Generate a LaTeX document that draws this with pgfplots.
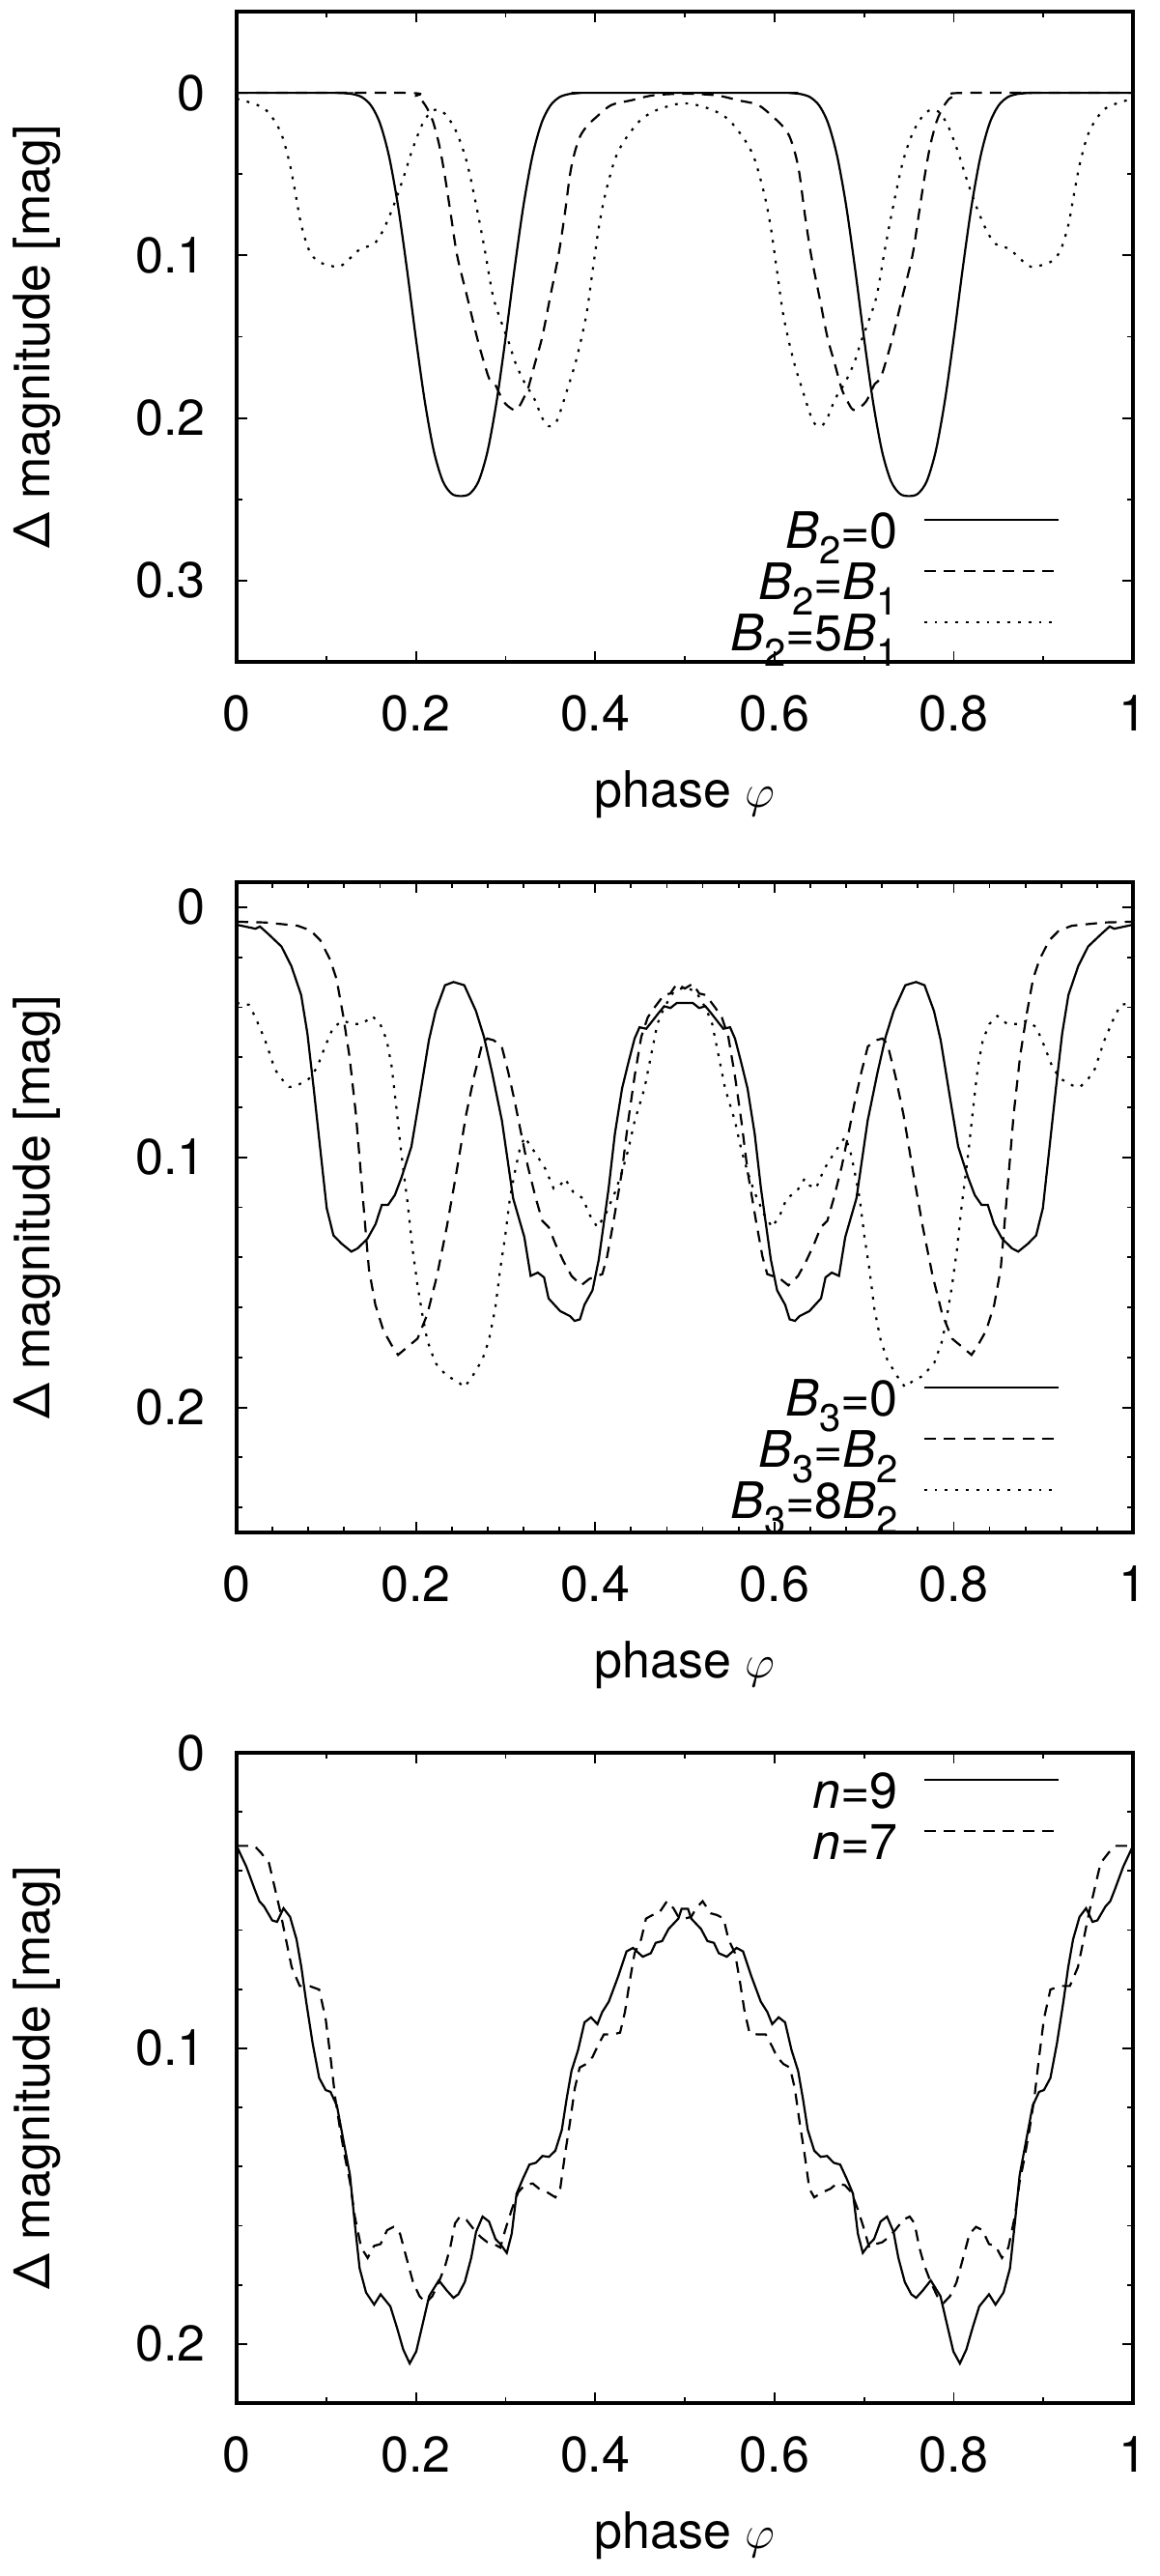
\documentclass[border=0pt]{standalone}
\usepackage{fontspec}
\setmainfont{TeX Gyre Heros}
\usepackage{pgfplots}
\pgfplotsset{compat=1.18}
\newcommand{\sub}[1]{\raisebox{-4pt}{\fontsize{10}{11}\selectfont #1}}
\pgfplotsset{
 panel/.style={
  scale only axis, width=232pt, height=168.25pt,
  xmin=0, xmax=1, y dir=reverse,
  xtick={0,0.2,0.4,0.6,0.8,1}, minor xtick={0.1,0.3,0.5,0.7,0.9},
  tick align=inside,
  major tick length=2.8pt, minor tick length=1.5pt,
  every tick/.style={black, line width=0.45pt},
  axis line style={line width=1.1pt},
  /pgf/number format/assume math mode=true,
  tick label style={font=\fontsize{13}{15}\selectfont, inner sep=0pt},
  xticklabel style={anchor=base, yshift=-17.8pt},
  yticklabel style={anchor=east, xshift=-7.9pt},
  every axis x label/.style={at={(axis description cs:0.5,-0.2229)}, anchor=base},
  every axis y label/.style={at={(axis description cs:-0.20905,0.5)}, rotate=90, anchor=base},
  label style={font=\fontsize{13}{15}\selectfont, inner sep=0pt},
  xlabel={phase $\varphi$},
  ylabel={Δ magnitude [mag]},
  legend plot pos=right,
  legend cell align=right,
  legend image code/.code={\draw[##1] (0pt,4.6pt) -- (34.75pt,4.6pt);},
  legend style={draw=none, fill=none, inner sep=0pt, outer sep=0pt, column sep=6.5pt, row sep=0pt, font=\fontsize{13}{15}\selectfont, nodes={inner sep=0pt, text height=9.4pt, text depth=3.85pt}, anchor=north east},
  every axis plot/.append style={line width=0.55pt, black, mark=none},
 },
 dashedg/.style={dash pattern=on 3pt off 2.1pt},
 dottedg/.style={dash pattern=on 0.7pt off 2pt},
}
\begin{document}
\begin{tikzpicture}
\useasboundingbox (0,0) rectangle (300pt,-666.5pt);
% ---------------- Panel 1
\begin{axis}[panel, at={(61.25pt,-3pt)}, anchor=north west,
  ymin=-0.05, ymax=0.35, ytick={0,0.1,0.2,0.3}, minor ytick={0.05,0.15,0.25},
  legend style={at={(axis description cs:0.918,0.231)}}]
\addplot[smooth, solid] coordinates {(0,0) (0.11,0) (0.12,0.0002) (0.13,0.0008) (0.14,0.0027) (0.15,0.0078) (0.16,0.0188) (0.17,0.0389) (0.18,0.0693) (0.19,0.1083) (0.20,0.151) (0.21,0.190) (0.22,0.2203) (0.23,0.2388) (0.24,0.2466) (0.25,0.248) (0.26,0.2466) (0.27,0.2388) (0.28,0.2203) (0.29,0.190) (0.30,0.151) (0.31,0.1083) (0.32,0.0693) (0.33,0.0389) (0.34,0.0188) (0.35,0.0078) (0.36,0.0027) (0.37,0.0008) (0.38,0.0002) (0.39,0) (0.61,0) (0.62,0.0002) (0.63,0.0008) (0.64,0.0027) (0.65,0.0078) (0.66,0.0188) (0.67,0.0389) (0.68,0.0693) (0.69,0.1083) (0.70,0.151) (0.71,0.190) (0.72,0.2203) (0.73,0.2388) (0.74,0.2466) (0.75,0.248) (0.76,0.2466) (0.77,0.2388) (0.78,0.2203) (0.79,0.190) (0.80,0.151) (0.81,0.1083) (0.82,0.0693) (0.83,0.0389) (0.84,0.0188) (0.85,0.0078) (0.86,0.0027) (0.87,0.0008) (0.88,0.0002) (0.89,0) (1,0)};
\addlegendentry{\textit{B}\sub{2}=0}
\addplot[smooth, dashedg] coordinates {(0,0) (0.19,0) (0.20,0.002) (0.205,0.0036) (0.212,0.009) (0.219,0.0175) (0.226,0.032) (0.232,0.05) (0.239,0.075) (0.246,0.1) (0.257,0.125) (0.268,0.150) (0.275,0.164) (0.282,0.176) (0.288,0.179) (0.298,0.190) (0.309,0.195) (0.314,0.194) (0.320,0.188) (0.325,0.182) (0.333,0.166) (0.341,0.150) (0.350,0.125) (0.359,0.100) (0.366,0.075) (0.372,0.050) (0.377,0.037) (0.383,0.027) (0.39,0.021) (0.40,0.0155) (0.418,0.0075) (0.44,0.0046) (0.465,0.0015) (0.50,0.0005) (0.535,0.0015) (0.56,0.0046) (0.582,0.0075) (0.60,0.0155) (0.61,0.021) (0.617,0.027) (0.623,0.037) (0.628,0.050) (0.634,0.075) (0.641,0.100) (0.650,0.125) (0.659,0.150) (0.667,0.166) (0.675,0.182) (0.680,0.188) (0.686,0.194) (0.691,0.195) (0.702,0.190) (0.712,0.179) (0.718,0.176) (0.725,0.164) (0.732,0.150) (0.743,0.125) (0.754,0.1) (0.761,0.075) (0.768,0.05) (0.774,0.032) (0.781,0.0175) (0.788,0.009) (0.795,0.0036) (0.80,0.002) (0.81,0) (1,0)};
\addlegendentry{\textit{B}\sub{2}=\textit{B}\sub{1}}
\addplot[smooth, dottedg] coordinates {(0,0.0036) (0.0305,0.0095) (0.0485,0.0234) (0.059,0.043) (0.066,0.063) (0.072,0.081) (0.081,0.097) (0.092,0.104) (0.113,0.107) (0.124,0.103) (0.138,0.096) (0.153,0.093) (0.163,0.085) (0.174,0.071) (0.185,0.054) (0.196,0.035) (0.207,0.0195) (0.217,0.0115) (0.226,0.0105) (0.235,0.0145) (0.246,0.025) (0.257,0.043) (0.268,0.071) (0.277,0.097) (0.286,0.125) (0.296,0.142) (0.304,0.154) (0.311,0.166) (0.321,0.178) (0.332,0.188) (0.341,0.2) (0.348,0.205) (0.357,0.202) (0.368,0.184) (0.379,0.164) (0.39,0.137) (0.397,0.11) (0.404,0.083) (0.411,0.063) (0.422,0.041) (0.433,0.029) (0.451,0.0165) (0.469,0.0105) (0.49,0.007) (0.5,0.0065) (0.51,0.007) (0.531,0.0105) (0.549,0.0165) (0.567,0.029) (0.578,0.041) (0.589,0.063) (0.596,0.083) (0.603,0.11) (0.61,0.137) (0.621,0.164) (0.632,0.184) (0.643,0.202) (0.652,0.205) (0.659,0.2) (0.668,0.188) (0.679,0.178) (0.689,0.166) (0.696,0.154) (0.704,0.142) (0.714,0.125) (0.723,0.097) (0.732,0.071) (0.743,0.043) (0.754,0.025) (0.765,0.0145) (0.774,0.0105) (0.783,0.0115) (0.793,0.0195) (0.804,0.035) (0.815,0.054) (0.826,0.071) (0.837,0.085) (0.847,0.093) (0.862,0.096) (0.876,0.103) (0.887,0.107) (0.908,0.104) (0.919,0.097) (0.928,0.081) (0.934,0.063) (0.941,0.043) (0.9515,0.0234) (0.9695,0.0095) (1,0.0036)};
\addlegendentry{\textit{B}\sub{2}=5\textit{B}\sub{1}}
\end{axis}
% ---------------- Panel 2
\begin{axis}[panel, at={(61.25pt,-228.25pt)}, anchor=north west,
  ymin=-0.01, ymax=0.25, ytick={0,0.1,0.2}, minor ytick={0.02,0.04,0.06,0.08,0.12,0.14,0.16,0.18,0.22,0.24},
  minor xtick={0.04,0.08,0.12,0.16,0.24,0.28,0.32,0.36,0.44,0.48,0.52,0.56,0.64,0.68,0.72,0.76,0.84,0.88,0.92,0.96},
  legend style={at={(axis description cs:0.918,0.235)}}]
\addplot[solid] coordinates {(0,0.007) (0.021,0.0086) (0.026,0.0077) (0.035,0.0106) (0.050,0.0157) (0.061,0.0235) (0.072,0.0351) (0.079,0.0506) (0.086,0.0725) (0.093,0.0957) (0.1005,0.1203) (0.108,0.1312) (0.117,0.1345) (0.128,0.1377) (0.135,0.1364) (0.146,0.1325) (0.155,0.1267) (0.162,0.119) (0.169,0.119) (0.1765,0.1151) (0.184,0.108) (0.195,0.0957) (0.204,0.0764) (0.2145,0.0532) (0.222,0.0415) (0.2325,0.0312) (0.242,0.0299) (0.254,0.0312) (0.267,0.0415) (0.276,0.0519) (0.285,0.0661) (0.296,0.0854) (0.3085,0.1164) (0.321,0.1319) (0.328,0.1474) (0.336,0.1461) (0.343,0.148) (0.348,0.1564) (0.361,0.1615) (0.372,0.1635) (0.377,0.1654) (0.383,0.1648) (0.388,0.159) (0.397,0.1532) (0.404,0.1409) (0.415,0.1125) (0.422,0.0906) (0.43,0.0725) (0.437,0.0622) (0.444,0.0525) (0.4495,0.048) (0.457,0.0486) (0.464,0.0454) (0.471,0.0422) (0.477,0.0396) (0.484,0.0403) (0.491,0.0383) (0.5,0.0383) (0.509,0.0383) (0.516,0.0403) (0.523,0.0396) (0.529,0.0422) (0.536,0.0454) (0.543,0.0486) (0.5505,0.048) (0.556,0.0525) (0.563,0.0622) (0.57,0.0725) (0.578,0.0906) (0.585,0.1125) (0.596,0.1409) (0.603,0.1532) (0.612,0.159) (0.617,0.1648) (0.623,0.1654) (0.628,0.1635) (0.639,0.1615) (0.652,0.1564) (0.657,0.148) (0.664,0.1461) (0.672,0.1474) (0.679,0.1319) (0.6915,0.1164) (0.704,0.0854) (0.715,0.0661) (0.724,0.0519) (0.733,0.0415) (0.746,0.0312) (0.758,0.0299) (0.7675,0.0312) (0.778,0.0415) (0.7855,0.0532) (0.796,0.0764) (0.805,0.0957) (0.816,0.108) (0.8235,0.1151) (0.831,0.119) (0.838,0.119) (0.845,0.1267) (0.854,0.1325) (0.865,0.1364) (0.872,0.1377) (0.883,0.1345) (0.892,0.1312) (0.8995,0.1203) (0.907,0.0957) (0.914,0.0725) (0.921,0.0506) (0.928,0.0351) (0.939,0.0235) (0.95,0.0157) (0.965,0.0106) (0.974,0.0077) (0.979,0.0086) (1,0.007)};
\addlegendentry{\textit{B}\sub{3}=0}
\addplot[dashedg] coordinates {(0,0.0058) (0.032,0.0061) (0.068,0.0074) (0.0825,0.0093) (0.0933,0.0132) (0.1042,0.0209) (0.1114,0.0286) (0.1186,0.0428) (0.1259,0.0596) (0.1331,0.0828) (0.1385,0.1061) (0.1439,0.1293) (0.1476,0.1448) (0.1548,0.159) (0.1638,0.1693) (0.1729,0.1751) (0.1801,0.179) (0.191,0.1757) (0.2018,0.1725) (0.2127,0.1628) (0.2235,0.1474) (0.2344,0.128) (0.2452,0.1061) (0.2561,0.0828) (0.2651,0.0674) (0.2741,0.0545) (0.2796,0.0525) (0.2868,0.0532) (0.2958,0.0557) (0.3031,0.0661) (0.3103,0.0777) (0.3175,0.0906) (0.3248,0.1035) (0.3338,0.1164) (0.341,0.1254) (0.3483,0.128) (0.3555,0.1345) (0.3646,0.1415) (0.3736,0.1474) (0.3844,0.1512) (0.3935,0.1486) (0.408,0.1467) (0.4134,0.1396) (0.4206,0.1254) (0.4297,0.1061) (0.4369,0.0854) (0.4441,0.0674) (0.4514,0.0519) (0.4586,0.0441) (0.4658,0.0403) (0.4767,0.0351) (0.4839,0.0345) (0.4911,0.0306) (0.5,0.0325) (0.5089,0.0306) (0.5161,0.0345) (0.5233,0.0351) (0.5342,0.0403) (0.5414,0.0441) (0.5486,0.0519) (0.5559,0.0674) (0.5631,0.0854) (0.5703,0.1061) (0.5794,0.1254) (0.5866,0.1396) (0.592,0.1467) (0.6065,0.1486) (0.6156,0.1512) (0.6264,0.1474) (0.6354,0.1415) (0.6445,0.1345) (0.6517,0.128) (0.659,0.1254) (0.6662,0.1164) (0.6752,0.1035) (0.6825,0.0906) (0.6897,0.0777) (0.6969,0.0661) (0.7042,0.0557) (0.7132,0.0532) (0.7204,0.0525) (0.7259,0.0545) (0.7349,0.0674) (0.7439,0.0828) (0.7548,0.1061) (0.7656,0.128) (0.7765,0.1474) (0.7873,0.1628) (0.7982,0.1725) (0.809,0.1757) (0.8199,0.179) (0.8271,0.1751) (0.8362,0.1693) (0.8452,0.159) (0.8524,0.1448) (0.8561,0.1293) (0.8615,0.1061) (0.8669,0.0828) (0.8741,0.0596) (0.8814,0.0428) (0.8886,0.0286) (0.8958,0.0209) (0.9067,0.0132) (0.9175,0.0093) (0.932,0.0074) (0.968,0.0061) (1,0.0058)};
\addlegendentry{\textit{B}\sub{3}=\textit{B}\sub{2}}
\addplot[dottedg] coordinates {(0,0.0383) (0.0137,0.039) (0.021,0.0441) (0.0318,0.0532) (0.0427,0.0648) (0.0499,0.0686) (0.059,0.0719) (0.068,0.0712) (0.0807,0.0686) (0.0897,0.0641) (0.0987,0.0557) (0.1078,0.048) (0.1186,0.0454) (0.1295,0.0467) (0.1403,0.0467) (0.1512,0.0435) (0.1602,0.0467) (0.1675,0.0532) (0.1729,0.0635) (0.1783,0.0803) (0.1837,0.0983) (0.1873,0.1086) (0.191,0.119) (0.1964,0.137) (0.2018,0.1512) (0.2072,0.1628) (0.2127,0.1732) (0.2217,0.1822) (0.2344,0.1874) (0.2452,0.1893) (0.2542,0.1919) (0.2633,0.1874) (0.2741,0.1809) (0.2814,0.1732) (0.2886,0.1603) (0.294,0.1448) (0.2995,0.1319) (0.3049,0.1164) (0.3103,0.1061) (0.3157,0.097) (0.3212,0.0919) (0.3284,0.0957) (0.3356,0.0996) (0.3447,0.1048) (0.3537,0.1125) (0.3609,0.1112) (0.3664,0.1086) (0.3754,0.1138) (0.3863,0.1164) (0.3935,0.1228) (0.4025,0.128) (0.4116,0.1228) (0.4224,0.1138) (0.4297,0.1061) (0.4369,0.097) (0.4441,0.0854) (0.455,0.0725) (0.4622,0.0596) (0.4694,0.0467) (0.4767,0.0403) (0.4875,0.0338) (0.5,0.0319) (0.5125,0.0338) (0.5233,0.0403) (0.5306,0.0467) (0.5378,0.0596) (0.545,0.0725) (0.5559,0.0854) (0.5631,0.097) (0.5703,0.1061) (0.5776,0.1138) (0.5884,0.1228) (0.5975,0.128) (0.6065,0.1228) (0.6137,0.1164) (0.6246,0.1138) (0.6336,0.1086) (0.6391,0.1112) (0.6463,0.1125) (0.6553,0.1048) (0.6644,0.0996) (0.6716,0.0957) (0.6788,0.0919) (0.6843,0.097) (0.6897,0.1061) (0.6951,0.1164) (0.7005,0.1319) (0.706,0.1448) (0.7114,0.1603) (0.7186,0.1732) (0.7259,0.1809) (0.7367,0.1874) (0.7458,0.1919) (0.7548,0.1893) (0.7656,0.1874) (0.7783,0.1822) (0.7873,0.1732) (0.7928,0.1628) (0.7982,0.1512) (0.8036,0.137) (0.809,0.119) (0.8127,0.1086) (0.8163,0.0983) (0.8217,0.0803) (0.8271,0.0635) (0.8325,0.0532) (0.8398,0.0467) (0.8488,0.0435) (0.8597,0.0467) (0.8705,0.0467) (0.8814,0.0454) (0.8922,0.048) (0.9013,0.0557) (0.9103,0.0641) (0.9193,0.0686) (0.932,0.0712) (0.941,0.0719) (0.9501,0.0686) (0.9573,0.0648) (0.9682,0.0532) (0.979,0.0441) (0.9863,0.039) (1,0.0383)};
\addlegendentry{\textit{B}\sub{3}=8\textit{B}\sub{2}}
\end{axis}
% ---------------- Panel 3
\begin{axis}[panel, at={(61.25pt,-453.5pt)}, anchor=north west,
  ymin=0, ymax=0.22, ytick={0,0.1,0.2}, minor ytick={0.02,0.04,0.06,0.08,0.12,0.14,0.16,0.18},
  legend style={at={(axis description cs:0.918,0.970)}}]
\addplot[solid] coordinates {(0,0.0315) (0.0108,0.0385) (0.0199,0.046) (0.0253,0.0502) (0.0307,0.052) (0.0397,0.0567) (0.0451,0.0572) (0.0523,0.0526) (0.0596,0.0555) (0.0668,0.0631) (0.0722,0.0725) (0.0776,0.0842) (0.0848,0.0983) (0.0921,0.11) (0.0993,0.1141) (0.1047,0.1147) (0.1119,0.1194) (0.1191,0.1311) (0.1264,0.1428) (0.1318,0.1592) (0.1372,0.1744) (0.1444,0.1826) (0.1534,0.1867) (0.1606,0.1832) (0.1715,0.1873) (0.1787,0.1943) (0.1859,0.2019) (0.1931,0.2066) (0.2004,0.2025) (0.2076,0.1932) (0.2148,0.1838) (0.2256,0.1785) (0.2347,0.182) (0.2419,0.1844) (0.2473,0.1832) (0.2545,0.1791) (0.2617,0.1709) (0.2671,0.1621) (0.2744,0.1569) (0.2816,0.1586) (0.2888,0.1645) (0.2942,0.1662) (0.3014,0.1692) (0.3069,0.1627) (0.3123,0.1492) (0.3195,0.144) (0.3267,0.1393) (0.3339,0.1387) (0.3412,0.1364) (0.3484,0.1367) (0.3556,0.1346) (0.3628,0.1276) (0.3682,0.117) (0.3736,0.1076) (0.3809,0.1006) (0.3881,0.0912) (0.3953,0.0895) (0.4025,0.0918) (0.4079,0.0877) (0.4152,0.0842) (0.426,0.0754) (0.435,0.0672) (0.4422,0.066) (0.4531,0.069) (0.4621,0.0678) (0.4675,0.0643) (0.4747,0.0637) (0.4819,0.0596) (0.4928,0.0561) (0.4964,0.0528) (0.5,0.0528) (0.5036,0.0528) (0.5072,0.0561) (0.5181,0.0596) (0.5253,0.0637) (0.5325,0.0643) (0.5379,0.0678) (0.5469,0.069) (0.5578,0.066) (0.565,0.0672) (0.574,0.0754) (0.5848,0.0842) (0.5921,0.0877) (0.5975,0.0918) (0.6047,0.0895) (0.6119,0.0912) (0.6191,0.1006) (0.6264,0.1076) (0.6318,0.117) (0.6372,0.1276) (0.6444,0.1346) (0.6516,0.1367) (0.6588,0.1364) (0.6661,0.1387) (0.6733,0.1393) (0.6805,0.144) (0.6877,0.1492) (0.6931,0.1627) (0.6986,0.1692) (0.7058,0.1662) (0.7112,0.1645) (0.7184,0.1586) (0.7256,0.1569) (0.7329,0.1621) (0.7383,0.1709) (0.7455,0.1791) (0.7527,0.1832) (0.7581,0.1844) (0.7653,0.182) (0.7744,0.1785) (0.7852,0.1838) (0.7924,0.1932) (0.7996,0.2025) (0.8069,0.2066) (0.8141,0.2019) (0.8213,0.1943) (0.8285,0.1873) (0.8394,0.1832) (0.8466,0.1867) (0.8556,0.1826) (0.8628,0.1744) (0.8682,0.1592) (0.8736,0.1428) (0.8809,0.1311) (0.8881,0.1194) (0.8953,0.1147) (0.9007,0.1141) (0.9079,0.11) (0.9152,0.0983) (0.9224,0.0842) (0.9278,0.0725) (0.9332,0.0631) (0.9404,0.0555) (0.9477,0.0526) (0.9549,0.0572) (0.9603,0.0567) (0.9693,0.052) (0.9747,0.0502) (0.9801,0.046) (0.9892,0.0385) (1,0.0315)};
\addlegendentry{\textit{n}=9}
\addplot[dashedg] coordinates {(0,0.0315) (0.0199,0.0315) (0.0271,0.0338) (0.0361,0.0373) (0.0415,0.0443) (0.0487,0.0537) (0.0542,0.0619) (0.0614,0.0725) (0.0704,0.0789) (0.0812,0.0789) (0.0921,0.0801) (0.0993,0.09) (0.1047,0.1029) (0.1101,0.117) (0.1155,0.1276) (0.1209,0.1369) (0.1264,0.1451) (0.1318,0.1568) (0.139,0.1674) (0.1462,0.1709) (0.1534,0.1668) (0.1606,0.1662) (0.1679,0.1615) (0.1751,0.1604) (0.1823,0.1627) (0.1895,0.1709) (0.1968,0.1791) (0.204,0.1838) (0.2112,0.1861) (0.2184,0.1838) (0.2256,0.1791) (0.2329,0.1733) (0.2383,0.1674) (0.2437,0.1592) (0.2491,0.1569) (0.2563,0.158) (0.2653,0.1615) (0.2726,0.1639) (0.2798,0.1656) (0.287,0.1662) (0.2942,0.1674) (0.2996,0.1615) (0.3069,0.1545) (0.3141,0.1487) (0.3213,0.1463) (0.3303,0.1457) (0.3375,0.1475) (0.3466,0.1487) (0.3556,0.1504) (0.361,0.1475) (0.3664,0.1357) (0.3718,0.1252) (0.3773,0.1135) (0.3827,0.1065) (0.3899,0.1053) (0.3971,0.1029) (0.4025,0.0994) (0.4097,0.0953) (0.4188,0.0953) (0.4278,0.0947) (0.4332,0.0877) (0.4386,0.0772) (0.444,0.0678) (0.4513,0.0631) (0.4567,0.0561) (0.4639,0.0549) (0.4711,0.0543) (0.4801,0.0502) (0.4874,0.0526) (0.4928,0.0555) (0.5,0.0561) (0.5072,0.0555) (0.5126,0.0526) (0.5199,0.0502) (0.5289,0.0543) (0.5361,0.0549) (0.5433,0.0561) (0.5487,0.0631) (0.556,0.0678) (0.5614,0.0772) (0.5668,0.0877) (0.5722,0.0947) (0.5812,0.0953) (0.5903,0.0953) (0.5975,0.0994) (0.6029,0.1029) (0.6101,0.1053) (0.6173,0.1065) (0.6227,0.1135) (0.6282,0.1252) (0.6336,0.1357) (0.639,0.1475) (0.6444,0.1504) (0.6534,0.1487) (0.6625,0.1475) (0.6697,0.1457) (0.6787,0.1463) (0.6859,0.1487) (0.6931,0.1545) (0.7004,0.1615) (0.7058,0.1674) (0.713,0.1662) (0.7202,0.1656) (0.7274,0.1639) (0.7347,0.1615) (0.7437,0.158) (0.7509,0.1569) (0.7563,0.1592) (0.7617,0.1674) (0.7671,0.1733) (0.7744,0.1791) (0.7816,0.1838) (0.7888,0.1861) (0.796,0.1838) (0.8032,0.1791) (0.8105,0.1709) (0.8177,0.1627) (0.8249,0.1604) (0.8321,0.1615) (0.8394,0.1662) (0.8466,0.1668) (0.8538,0.1709) (0.861,0.1674) (0.8682,0.1568) (0.8736,0.1451) (0.8791,0.1369) (0.8845,0.1276) (0.8899,0.117) (0.8953,0.1029) (0.9007,0.09) (0.9079,0.0801) (0.9188,0.0789) (0.9296,0.0789) (0.9386,0.0725) (0.9458,0.0619) (0.9513,0.0537) (0.9585,0.0443) (0.9639,0.0373) (0.9729,0.0338) (0.9801,0.0315) (1,0.0315)};
\addlegendentry{\textit{n}=7}
\end{axis}
\end{tikzpicture}
\end{document}
